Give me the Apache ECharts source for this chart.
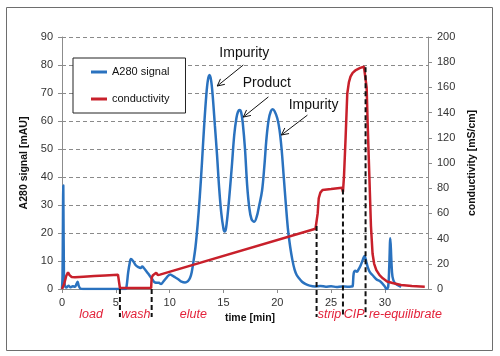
<!DOCTYPE html>
<html><head><meta charset="utf-8">
<script src="https://cdn.jsdelivr.net/npm/echarts@6/dist/echarts.min.js"></script>
<style>html,body{margin:0;padding:0;background:#fff}#c{width:500px;height:356px}</style>
</head><body><div id="c"></div>
<script>
// ---- data (time [min], value) ----
const a280Signal = [
 [0,0],[0.05,5],[0.12,37],[0.18,5],[0.25,1.5],[0.4,0.5],[0.6,1.2],[0.8,0.6],[1.0,1.0],[1.2,0.8],[1.35,1.8],[1.45,2.6],[1.55,1.2],[1.7,0.2],[2.0,0],[3.0,0],[4.0,0],[5.0,0],[5.9,0],
 [6.0,1],[6.15,6],[6.3,9.5],[6.4,10.7],[6.6,10],[6.85,8.5],[7.1,7.8],[7.3,7.5],[7.45,8],[7.6,7.5],[7.87,6.2],[8.1,5],[8.33,3.8],[8.64,2.3],[9.0,2.2],[9.2,1.8],[9.4,2.6],[9.7,4],[10.04,5.2],[10.4,4.4],[10.8,3.5],[11.1,2.6],[11.43,2.3],[11.7,2.8],[11.9,4],[12.05,6],
 [12.2,9.5],[12.4,15],[12.6,23],[12.8,33],[13.0,45],[13.2,58],[13.4,69],[13.55,74.5],[13.7,76.4],[13.85,74.5],[14.0,69],[14.2,58.5],[14.4,48],[14.6,36],[14.8,27],[15.0,21.5],[15.1,20.5],[15.2,21],
 [15.3,23.5],[15.45,29],[15.6,35.5],[15.8,45],[16.0,55],[16.2,61],[16.35,63.3],[16.5,63.9],[16.65,63],[16.8,59],[17.0,50],[17.2,37],[17.4,29],[17.6,25],[17.86,24],[18.1,26],
 [18.3,29.5],[18.58,35],[18.8,44],[19.0,54],[19.2,60.5],[19.4,63.5],[19.57,64.2],[19.75,63.5],[20.0,61],[20.2,57],[20.4,50],[20.6,40],[20.8,30],[21.0,21],[21.2,15],[21.4,10.4],[21.6,7],[21.8,5],[22.0,3.9],[22.3,2.6],[22.6,1.8],
 [23.0,1.2],[23.5,0.9],[24.0,1.1],[24.5,0.8],[25.0,1.0],[25.5,0.7],[26.0,0.9],[26.5,0.8],[26.9,0.9],
 [27.0,1],[27.1,5.6],[27.25,6.5],[27.4,6.2],[27.55,7],[27.75,8.5],[27.95,10.5],[28.1,11.8],[28.25,10],[28.4,7.8],[28.6,6],[28.84,5],[29.2,3.5],[29.6,2.6],[30.0,0.8],[30.15,0],[30.3,0.8],[30.4,8],[30.5,18.1],[30.6,10],[30.7,4.4],[30.9,2.2],[31.2,1.4],[31.5,0.8]
];
const conductivity = [
 [0,0],[0.2,4],[0.4,10.5],[0.56,13.2],[0.7,11],[0.9,9.5],[1.2,9.3],[2,9.8],[3,10.3],[4,10.8],[5.2,11.4],[5.3,11.2],[5.38,0.8],[8.28,0.8],
 [8.33,9],[8.45,11],[8.6,11.5],[8.75,12.9],[8.9,11],[9.1,11.4],[23.55,47.8],[23.65,49],[23.75,60],[23.85,72],[24.0,76.5],[24.2,78.6],[25.0,79.3],[26.0,80.4],[26.1,77],
 [26.2,90],[26.35,121],[26.5,155],[26.65,164],[26.8,168.5],[27.0,171.5],[27.3,173.8],[27.7,175.5],[28.05,176.4],[28.2,176],
 [28.3,160],[28.4,130],[28.55,90],[28.7,50],[28.85,28],[29.0,20],[29.2,15],[29.5,11],[29.8,8.5],[30.2,6],[30.7,4.8],[31.5,3.2],[32.5,2.3],[33.7,1.8]
];
const xTickLabels = [0,5,10,15,20,25,30];
const phaseBoundaries = [5.38, 8.33, 23.65, 26.1, 28.2];
const phaseBoundaryConductivity = [0, 0, 50, 79, 176];
const phaseNames = ['load','wash','elute','strip','CIP','re-equilibrate'];
const phaseLabelTimes = [2.7, 6.85, 12.2, 24.85, 27.15, 31.9];
const peakNames = ['Impurity','Product','Impurity'];
const peakLabelAt = [[16.93,84.3],[19.03,73.6],[23.37,65.7]];
const arrowFrom = [[16.84,80],[19.17,68.6],[22.8,62.1]];
const arrowTo = [[14.42,72.5],[16.84,61.4],[20.38,55]];

const FONT = "'Liberation Sans', Arial, sans-serif";
const BLUE = '#2a72bf', RED = '#c8202b';
const chart = echarts.init(document.getElementById('c'), null, {renderer:'canvas'});
const axisCommon = {
  axisLine:{show:true, lineStyle:{color:'#8c8c8c', width:1}},
  axisTick:{show:true, length:4, lineStyle:{color:'#8c8c8c'}},
  axisLabel:{fontFamily:FONT, fontSize:11, color:'#333', margin:9}
};
chart.setOption({
  animation:false,
  backgroundColor:'#fff',
  grid:{left:62, right:72, top:37, bottom:67},
  legend:{
    left:73, top:58, orient:'vertical', icon:'rect', itemWidth:16, itemHeight:3, itemGap:13,
    padding:[7,16,7,18], backgroundColor:'#fff', borderColor:'#222', borderWidth:1,
    textStyle:{fontFamily:FONT, fontSize:11, color:'#111', lineHeight:14},
    data:['A280 signal','conductivity']
  },
  xAxis:{type:'value', min:0, max:34, interval:5,
    name:'time [min]', nameLocation:'middle', nameGap:21,
    nameTextStyle:{fontFamily:FONT, fontSize:10.5, fontWeight:'bold', color:'#111', padding:[0,0,0,10]},
    splitLine:{show:false},
    axisLine:axisCommon.axisLine, axisTick:axisCommon.axisTick,
    axisLabel:Object.assign({}, axisCommon.axisLabel, {margin:8, showMaxLabel:false,
      formatter:v => xTickLabels.indexOf(v) >= 0 ? String(v) : ''})
  },
  yAxis:[
    {type:'value', min:0, max:90, interval:10, position:'left',
     name:'A280 signal [mAU]', nameLocation:'middle', nameGap:30,
     nameTextStyle:{fontFamily:FONT, fontSize:10.5, fontWeight:'bold', color:'#111'},
     splitLine:{show:true, lineStyle:{type:[4,3], color:'#8a8a8a', width:1}},
     axisLine:axisCommon.axisLine, axisTick:axisCommon.axisTick, axisLabel:axisCommon.axisLabel},
    {type:'value', min:0, max:200, interval:20, position:'right',
     name:'conductivity [mS/cm]', nameLocation:'middle', nameGap:34,
     nameTextStyle:{fontFamily:FONT, fontSize:10.5, fontWeight:'bold', color:'#111'},
     splitLine:{show:false},
     axisLine:axisCommon.axisLine, axisTick:axisCommon.axisTick, axisLabel:axisCommon.axisLabel}
  ],
  series:[
    {name:'A280 signal', type:'line', yAxisIndex:0, data:a280Signal, showSymbol:false, smooth:0.35,
     lineStyle:{color:BLUE, width:2.5}, itemStyle:{color:BLUE}},
    {name:'conductivity', type:'line', yAxisIndex:1, data:conductivity, showSymbol:false, smooth:false,
     lineStyle:{color:RED, width:2.5}, itemStyle:{color:RED}}
  ]
});

// ---- annotations via the chart's own coordinate conversion ----
const toPx = (t, v, axis) => chart.convertToPixel({xAxisIndex:0, yAxisIndex:axis}, [t, v]);
const baseY = toPx(0, 0, 0)[1];
const graphics = [];
graphics.push({type:'rect', shape:{x:6.5, y:7.5, width:486, height:343}, style:{fill:'none', stroke:'#6e6e6e', lineWidth:1}, z:-1});
phaseBoundaries.forEach((t, i) => {
  const top = toPx(t, phaseBoundaryConductivity[i], 1);
  graphics.push({type:'line', shape:{x1:top[0], y1:top[1], x2:top[0], y2:baseY + 28},
    style:{stroke:'#111', lineWidth:2, lineDash:[5,3]}, z:50});
});
phaseNames.forEach((n, i) => {
  const p = toPx(phaseLabelTimes[i], 0, 0);
  graphics.push({type:'text', x:p[0], y:baseY + 26, style:{text:n, fill:'#e3223a',
    font:"italic 12.5px " + FONT, align:'center', verticalAlign:'middle'}, z:50});
});
peakNames.forEach((n, i) => {
  const p = toPx(peakLabelAt[i][0], peakLabelAt[i][1], 0);
  graphics.push({type:'text', x:p[0], y:p[1], style:{text:n, fill:'#111',
    font:"14px " + FONT, align:'center', verticalAlign:'middle'}, z:50});
  const a = toPx(arrowFrom[i][0], arrowFrom[i][1], 0);
  const b = toPx(arrowTo[i][0], arrowTo[i][1], 0);
  const dx = b[0]-a[0], dy = b[1]-a[1], L = Math.hypot(dx, dy);
  const ux = dx/L, uy = dy/L, px = -uy, py = ux;
  graphics.push({type:'line', shape:{x1:a[0], y1:a[1], x2:b[0], y2:b[1]}, style:{stroke:'#111', lineWidth:1}, z:50});
  graphics.push({type:'polyline', shape:{points:[
    [b[0]-ux*7+px*3.5, b[1]-uy*7+py*3.5], [b[0], b[1]], [b[0]-ux*7-px*3.5, b[1]-uy*7-py*3.5]]},
    style:{stroke:'#111', lineWidth:1, fill:'none'}, z:50});
});
chart.setOption({graphic:graphics});
</script>
</body></html>
